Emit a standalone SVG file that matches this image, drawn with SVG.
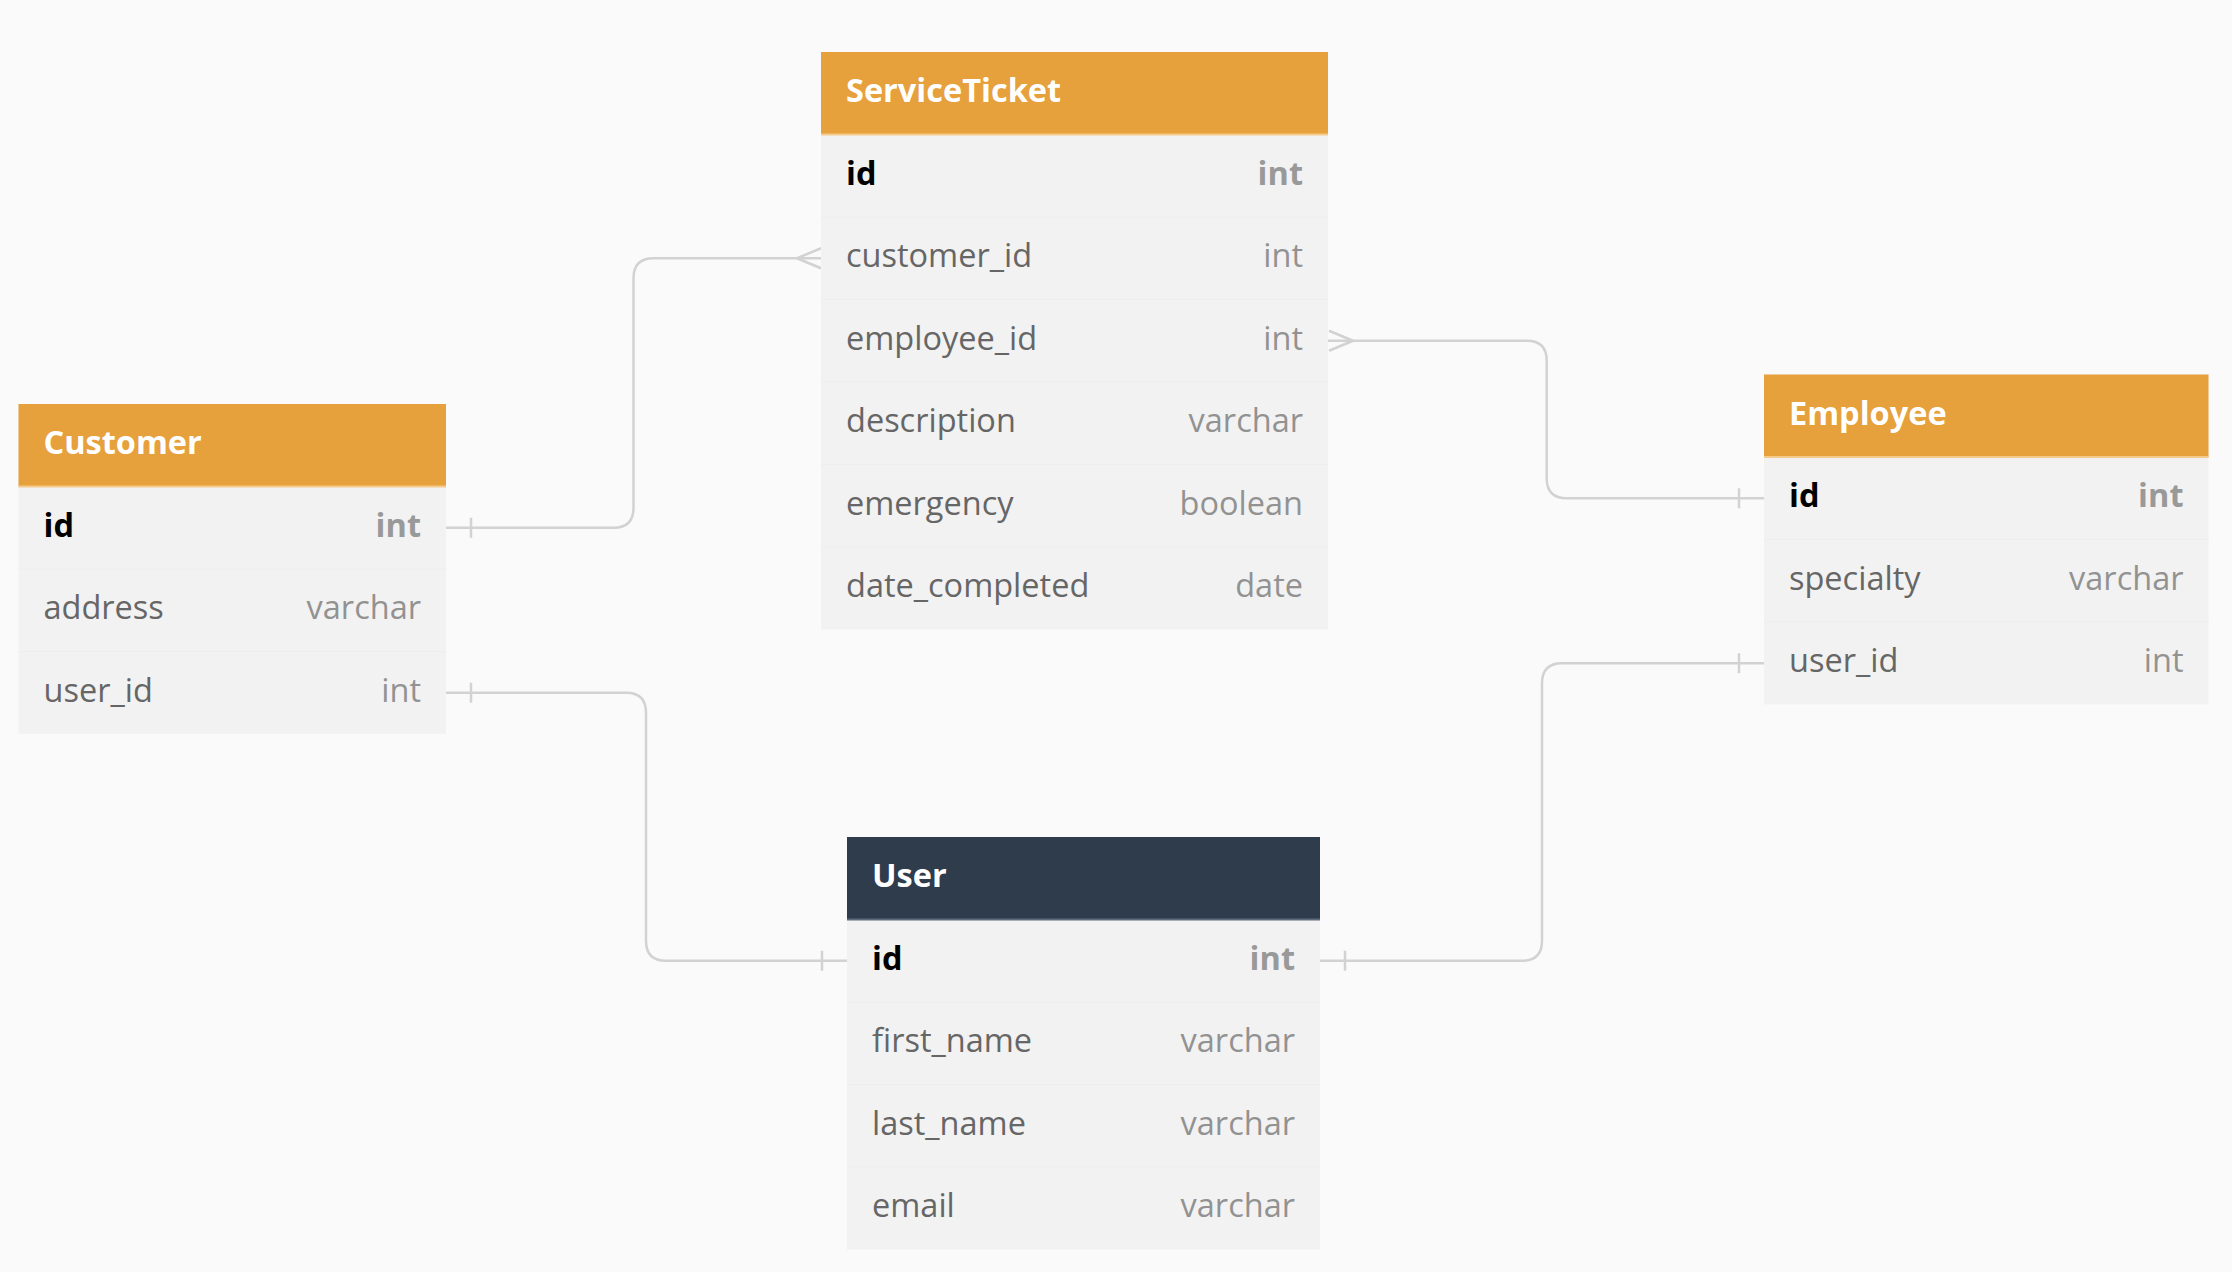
<svg xmlns="http://www.w3.org/2000/svg" width="2232" height="1272" viewBox="0 0 2232 1272">
<style>
.bg{fill:#FAFAFA}
.body{fill:#F2F2F2}
.hdr{fill:#E6A03C}
.hdrline{stroke:#F3C98C;stroke-width:2}
.hdrdark{fill:#2F3C4C}
.hdrdarkline{stroke:#5C6B7C;stroke-width:2}
.sep{stroke:#EEEEEE;stroke-width:1}
.title{font-family:"Open Sans",sans-serif;font-weight:700;font-size:32.5px;fill:#FFFFFF}
.pk{font-family:"Open Sans",sans-serif;font-weight:700;font-size:32.5px;fill:#000000}
.pkt{font-family:"Open Sans",sans-serif;font-weight:700;font-size:32.5px;fill:#999999;text-anchor:end}
.f{font-family:"Open Sans",sans-serif;font-size:32.5px;fill:#666666}
.t{font-family:"Open Sans",sans-serif;font-size:32.5px;fill:#929292;text-anchor:end}
.conn{fill:none;stroke:#D2D2D2;stroke-width:2.5}
</style>
<rect class="bg" x="0" y="0" width="2232" height="1272"/>

<g id="connectors">
  <path class="conn" d="M446,527.75 H613.5 Q633.5,527.75 633.5,507.75 V278.25 Q633.5,258.25 653.5,258.25 H821"/>
  <path class="conn" d="M797,258.25 L821,248.25 M797,258.25 L821,268.25 M471,517.75 V537.75"/>
  <path class="conn" d="M1328,340.75 H1526.7 Q1546.7,340.75 1546.7,360.75 V478.25 Q1546.7,498.25 1566.7,498.25 H1764"/>
  <path class="conn" d="M1353,340.75 L1329,330.75 M1353,340.75 L1329,350.75 M1739,488.25 V508.25"/>
  <path class="conn" d="M446,692.75 H626 Q646,692.75 646,712.75 V940.75 Q646,960.75 666,960.75 H847"/>
  <path class="conn" d="M471,682.75 V702.75 M822,950.75 V970.75"/>
  <path class="conn" d="M1320,960.75 H1522 Q1542,960.75 1542,940.75 V683.25 Q1542,663.25 1562,663.25 H1764"/>
  <path class="conn" d="M1345,950.75 V970.75 M1739,653.25 V673.25"/>
</g>

<g id="ServiceTicket">
  <rect class="body" x="821" y="52" width="507" height="577.5"/>
  <rect class="hdr" x="821" y="52" width="507" height="82.5"/>
  <line class="hdrline" x1="821" y1="134.5" x2="1328" y2="134.5"/>
  <line class="sep" x1="821" y1="217" x2="1328" y2="217"/>
  <line class="sep" x1="821" y1="299.5" x2="1328" y2="299.5"/>
  <line class="sep" x1="821" y1="382" x2="1328" y2="382"/>
  <line class="sep" x1="821" y1="464.5" x2="1328" y2="464.5"/>
  <line class="sep" x1="821" y1="547" x2="1328" y2="547"/>
  <text class="title" x="846" y="102.25">ServiceTicket</text>
  <text class="pk" x="846" y="184.5">id</text><text class="pkt" x="1303" y="184.5">int</text>
  <text class="f" x="846" y="267">customer_id</text><text class="t" x="1303" y="267">int</text>
  <text class="f" x="846" y="349.5">employee_id</text><text class="t" x="1303" y="349.5">int</text>
  <text class="f" x="846" y="432">description</text><text class="t" x="1303" y="432">varchar</text>
  <text class="f" x="846" y="514.5">emergency</text><text class="t" x="1303" y="514.5">boolean</text>
  <text class="f" x="846" y="597">date_completed</text><text class="t" x="1303" y="597">date</text>
</g>

<g id="Customer">
  <rect class="body" x="18.5" y="404" width="427.5" height="330"/>
  <rect class="hdr" x="18.5" y="404" width="427.5" height="82.5"/>
  <line class="hdrline" x1="18.5" y1="486.5" x2="446" y2="486.5"/>
  <line class="sep" x1="18.5" y1="569" x2="446" y2="569"/>
  <line class="sep" x1="18.5" y1="651.5" x2="446" y2="651.5"/>
  <text class="title" x="43.5" y="454.25">Customer</text>
  <text class="pk" x="43.5" y="536.5">id</text><text class="pkt" x="421" y="536.5">int</text>
  <text class="f" x="43.5" y="619">address</text><text class="t" x="421" y="619">varchar</text>
  <text class="f" x="43.5" y="701.5">user_id</text><text class="t" x="421" y="701.5">int</text>
</g>

<g id="Employee">
  <rect class="body" x="1764" y="374.5" width="444.5" height="330"/>
  <rect class="hdr" x="1764" y="374.5" width="444.5" height="82.5"/>
  <line class="hdrline" x1="1764" y1="457" x2="2208.5" y2="457"/>
  <line class="sep" x1="1764" y1="539.5" x2="2208.5" y2="539.5"/>
  <line class="sep" x1="1764" y1="622" x2="2208.5" y2="622"/>
  <text class="title" x="1789" y="424.75">Employee</text>
  <text class="pk" x="1789" y="507">id</text><text class="pkt" x="2183.5" y="507">int</text>
  <text class="f" x="1789" y="589.5">specialty</text><text class="t" x="2183.5" y="589.5">varchar</text>
  <text class="f" x="1789" y="672">user_id</text><text class="t" x="2183.5" y="672">int</text>
</g>

<g id="User">
  <rect class="body" x="847" y="837" width="473" height="412.5"/>
  <rect class="hdrdark" x="847" y="837" width="473" height="82.5"/>
  <line class="hdrdarkline" x1="847" y1="919.5" x2="1320" y2="919.5"/>
  <line class="sep" x1="847" y1="1002" x2="1320" y2="1002"/>
  <line class="sep" x1="847" y1="1084.5" x2="1320" y2="1084.5"/>
  <line class="sep" x1="847" y1="1167" x2="1320" y2="1167"/>
  <text class="title" x="872" y="887.25">User</text>
  <text class="pk" x="872" y="969.5">id</text><text class="pkt" x="1295" y="969.5">int</text>
  <text class="f" x="872" y="1052">first_name</text><text class="t" x="1295" y="1052">varchar</text>
  <text class="f" x="872" y="1134.5">last_name</text><text class="t" x="1295" y="1134.5">varchar</text>
  <text class="f" x="872" y="1217">email</text><text class="t" x="1295" y="1217">varchar</text>
</g>
</svg>
